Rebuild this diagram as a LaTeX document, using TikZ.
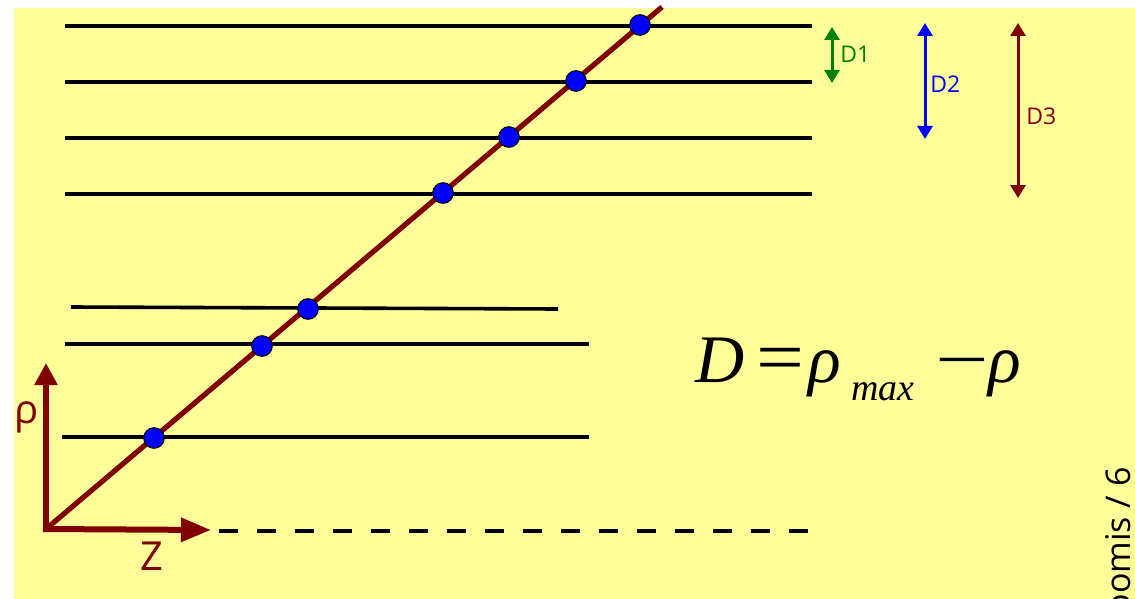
\documentclass[tikz,border=0pt]{standalone}
\usepackage{fontspec}
\setmainfont{Liberation Serif}
\newfontfamily\lblfont{Open Sans}
\usetikzlibrary{arrows.meta}
\definecolor{bgyellow}{RGB}{255,253,153}
\definecolor{darkred}{RGB}{128,0,0}
\definecolor{dgreen}{RGB}{0,128,0}
\definecolor{dotblue}{RGB}{0,0,255}
\tikzset{
  level/.style={black,line width=1.8pt},
  dashlevel/.style={black,line width=2pt,dash pattern=on 9.5pt off 9.5pt},
  ray/.style={darkred,line width=2.6pt},
  dot/.style={circle,fill=dotblue,draw=black,line width=0.5pt,minimum size=10.3pt,inner sep=0pt},
  axis/.style={darkred,line width=3pt},
  dim/.style={line width=1.5pt,{Triangle[length=6.5pt,width=7.5pt]}-{Triangle[length=6.5pt,width=7.5pt]}},
  dimlbl/.style={font=\lblfont\fontsize{11.5pt}{12pt}\selectfont,anchor=west,inner sep=0pt},
  axlbl/.style={font=\lblfont\fontsize{20pt}{22pt}\selectfont,text=darkred,inner sep=0pt},
  eq/.style={font=\fontsize{34pt}{36pt}\selectfont,anchor=base west,inner sep=0pt},
}
\begin{document}
\begin{tikzpicture}[x=0.5pt,y=-0.5pt]
\useasboundingbox (0,0) rectangle (1135,599);
\clip (0,0) rectangle (1135,599);
\fill[bgyellow] (14,8) rectangle (1135,599);

% horizontal level lines
\coordinate (l1a) at (65,26);  \coordinate (l1b) at (812,26);
\coordinate (l2a) at (65,82);  \coordinate (l2b) at (812,82);
\coordinate (l3a) at (65,138); \coordinate (l3b) at (812,138);
\coordinate (l4a) at (65,194); \coordinate (l4b) at (812,194);
\coordinate (l5a) at (71,307); \coordinate (l5b) at (558,309);
\coordinate (l6a) at (65,344); \coordinate (l6b) at (589,344);
\coordinate (l7a) at (62,437); \coordinate (l7b) at (589,437);
\coordinate (dsa) at (219,531); \coordinate (dsb) at (810,531);
\foreach \i in {1,...,7} {\draw[level] (l\i a) -- (l\i b);}
\draw[dashlevel] (dsa) -- (dsb);

% ray
\coordinate (O) at (46,529);
\coordinate (rend) at (662,7);
\draw[ray] (O) -- (rend);

% axes
\coordinate (ytip) at (46,363);
\coordinate (xtip) at (211,530);
\draw[axis,-{Triangle[length=11pt,width=11pt]}] ([yshift=-1.5pt]O) -- (ytip);
\draw[axis,-{Triangle[length=15pt,width=11.5pt]}] ([xshift=-1.5pt]O) -- (xtip);
\node[axlbl] (rho) at (27,417) {ρ};
\node[axlbl] (zlbl) at (152,556) {Z};

% dots
\node[dot] (d1) at (154,438) {};
\node[dot] (d2) at (262,346) {};
\node[dot] (d3) at (308,309) {};
\node[dot] (d4) at (443,193) {};
\node[dot] (d5) at (509,137) {};
\node[dot] (d6) at (576,81) {};
\node[dot] (d7) at (640,25) {};

% dimension arrows
\coordinate (a1t) at (832,27);  \coordinate (a1b) at (832,83);
\coordinate (a2t) at (925,23);  \coordinate (a2b) at (925,139);
\coordinate (a3t) at (1018,23); \coordinate (a3b) at (1018,198);
\draw[dim,dgreen] (a1t) -- (a1b);
\draw[dim,dotblue] (a2t) -- (a2b);
\draw[dim,darkred] (a3t) -- (a3b);
\node[dimlbl,text=dgreen] (D1) at (840,54) {D1};
\node[dimlbl,text=dotblue] (D2) at (930,84) {D2};
\node[dimlbl,text=darkred] (D3) at (1026,116) {D3};

% formula
\node[eq] (eD) at (695,382) {\itshape D};
\node[eq] (eeq) at (756,382) {\scalebox{1.25}[1.1]{=}};
\node[eq] (erho) at (808,382) {\itshape ρ};
\node[eq,font=\fontsize{19pt}{20pt}\selectfont] (emax) at (851,400) {\itshape max};
\node[eq] (emin) at (935,382) {\scalebox{1.4}[1]{−}};
\node[eq] (erho2) at (988,382) {\itshape ρ};

% side credit
\node[rotate=90,anchor=base east,inner sep=0pt,font=\lblfont\fontsize{17pt}{19pt}\selectfont] (credit) at (1130,467) {Loomis / 6};
\end{tikzpicture}
\end{document}
